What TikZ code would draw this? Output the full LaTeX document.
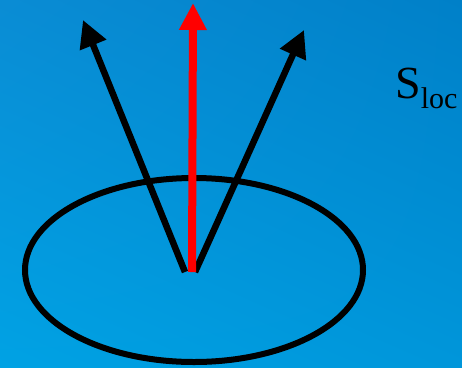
\documentclass[tikz,border=0pt]{standalone}
\usepackage{fontspec}
\setmainfont{Liberation Serif}
\usetikzlibrary{arrows.meta, shadings}
\definecolor{bgtl}{HTML}{0A8CD4}
\definecolor{bgtr}{HTML}{0080C8}
\definecolor{bgbl}{HTML}{00A2E4}
\definecolor{bgbr}{HTML}{0096DA}
\newcommand{\sublow}[1]{\raisebox{-10pt}{\fontsize{30}{30}\selectfont #1}}
\tikzset{
    % Arrow styles
    spin/.style={line width=6.5pt, -{Triangle[length=27pt, width=27pt]}},
    main spin/.style={spin, red, line width=8pt, -{Triangle[length=27pt, width=26pt]}},
    orbit/.style={draw, line width=6pt},
    frame text/.style={font=\fontsize{46}{50}\selectfont, inner sep=0pt, anchor=base west},
}
\begin{document}
\begin{tikzpicture}[x=1pt, y=-1pt]
    % Background
    \shade[upper left=bgtl, upper right=bgtr, lower left=bgbl, lower right=bgbr]
        (0,0) rectangle (462,367);
    \useasboundingbox (0,0) rectangle (462,367);

    % Orbit
    \coordinate (c) at (194,270);
    \draw[orbit] (c) ellipse [x radius=169pt, y radius=92pt];

    % Spins
    \coordinate (o left) at (185,272);
    \coordinate (o right) at (195,272);
    \coordinate (o main) at (192,272);
    \coordinate (t left) at (83,20);
    \coordinate (t right) at (304,30);
    \coordinate (t main) at (193,3);
    \draw[spin] (o left) -- (t left);
    \draw[spin] (o right) -- (t right);
    \draw[main spin] (o main) -- (t main);

    % Label
    \node[frame text] (sloc) at (395,98) {S\sublow{loc}};
\end{tikzpicture}
\end{document}
